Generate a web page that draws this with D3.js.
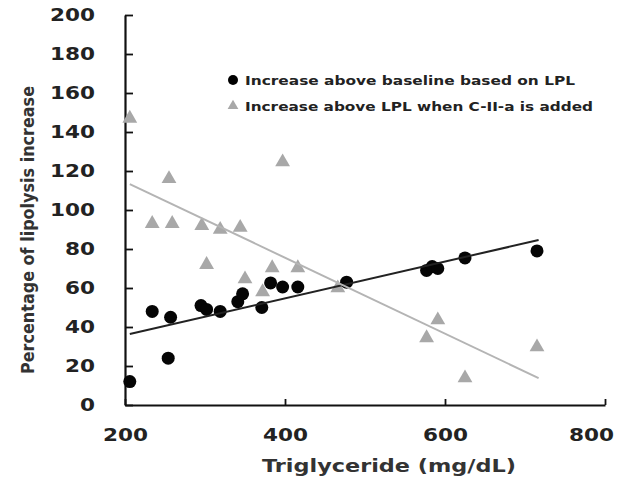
<!DOCTYPE html>
<html>
<head>
<meta charset="utf-8">
<script src="https://cdn.jsdelivr.net/npm/d3@7"></script>
<style>
  body { margin: 0; background: #fff; }
  text { font-family: "DejaVu Sans", sans-serif; }
</style>
</head>
<body>
<div id="chart"></div>
<script>
// LPL baseline series (black circles)
const lplX = [206, 234, 257, 254, 295, 302, 319, 341, 347, 371, 382, 397, 416, 477, 577, 584, 591, 625, 715];
const lplY = [12, 48, 45, 24, 51, 49, 48, 53, 57, 50, 62.6, 60.5, 60.5, 63, 69, 71, 70, 75.4, 79];

// C-II-a added series (grey triangles)
const ciiX = [206, 234, 259, 255, 296, 319, 344, 397, 302, 350, 372, 384, 416, 466, 577, 591, 625, 715];
const ciiY = [147, 93, 93, 116, 92, 90, 91, 124.6, 72, 64.6, 58, 70.3, 70.3, 60, 34.4, 43.6, 13.8, 29.7];

// trend line end points
const lplTrendX = [206, 717];
const lplTrendY = [36.4, 84.6];
const ciiTrendX = [206, 717];
const ciiTrendY = [113.3, 13.8];

const xTicks = [200, 400, 600, 800];
const yTicks = [0, 20, 40, 60, 80, 100, 120, 140, 160, 180, 200];
const legendLabels = [
  "Increase above baseline based on LPL",
  "Increase above LPL when C-II-a is added"
];

const W = 618, H = 480;
const svg = d3.select("#chart").append("svg")
  .attr("width", W)
  .attr("height", H);

const x = d3.scaleLinear().domain([200, 800]).range([125, 605]);
const y = d3.scaleLinear().domain([0, 200]).range([405, 15]);

// widen tick text a little, the source font is broad
function stretch(sel, perChar) {
  sel.selectAll(".tick text").each(function () {
    const t = d3.select(this);
    t.attr("textLength", t.text().length * perChar).attr("lengthAdjust", "spacingAndGlyphs");
  });
}

// Y axis
const gy = svg.append("g")
  .attr("transform", `translate(${x(200)},0)`)
  .call(d3.axisLeft(y).tickValues(yTicks).tickSizeInner(-8).tickSizeOuter(0).tickPadding(30));
gy.select(".domain").attr("stroke", "#111").attr("stroke-width", 2.2);
gy.selectAll(".tick line").attr("stroke", "#111").attr("stroke-width", 1.8);
gy.selectAll(".tick text")
  .attr("font-family", "DejaVu Sans").attr("font-weight", "bold")
  .attr("font-size", 17).attr("fill", "#222");
stretch(gy, 15);

// X axis
const gx = svg.append("g")
  .attr("transform", `translate(0,${y(0)})`)
  .call(d3.axisBottom(x).tickValues(xTicks).tickSizeInner(-6).tickSizeOuter(0).tickPadding(24));
gx.select(".domain").attr("stroke", "#111").attr("stroke-width", 2.2);
gx.selectAll(".tick line").attr("stroke", "#111").attr("stroke-width", 1.8);
gx.selectAll(".tick text")
  .attr("font-family", "DejaVu Sans").attr("font-weight", "bold")
  .attr("font-size", 17).attr("fill", "#222")
  .attr("dx", d => d === 800 ? -14 : 0); // last label sits left of its tick in the source
stretch(gx, 15);

// Axis titles
svg.append("text")
  .attr("x", 389).attr("y", 472)
  .attr("text-anchor", "middle")
  .attr("font-weight", "bold").attr("font-size", 17).attr("fill", "#333")
  .attr("textLength", 254).attr("lengthAdjust", "spacingAndGlyphs")
  .text("Triglyceride (mg/dL)");

svg.append("text")
  .attr("transform", "translate(34,230) rotate(-90)")
  .attr("text-anchor", "middle")
  .attr("font-weight", "bold").attr("font-size", 17).attr("fill", "#333")
  .attr("textLength", 288).attr("lengthAdjust", "spacingAndGlyphs")
  .text("Percentage of lipolysis increase");

const tri = d3.symbol().type(d3.symbolTriangle).size(95);

// triangles
svg.append("g").selectAll("path")
  .data(ciiX.map((v, i) => [v, ciiY[i]]))
  .join("path")
  .attr("d", tri)
  .attr("transform", d => `translate(${x(d[0])},${y(d[1])})`)
  .attr("fill", "#a8a8a8");

// circles
svg.append("g").selectAll("circle")
  .data(lplX.map((v, i) => [v, lplY[i]]))
  .join("circle")
  .attr("cx", d => x(d[0]))
  .attr("cy", d => y(d[1]))
  .attr("r", 6.5)
  .attr("fill", "#050505");

// trend lines
const line = d3.line().x(d => x(d[0])).y(d => y(d[1]));
svg.append("path")
  .datum(lplTrendX.map((v, i) => [v, lplTrendY[i]]))
  .attr("d", line)
  .attr("stroke", "#222").attr("stroke-width", 2).attr("fill", "none");
svg.append("path")
  .datum(ciiTrendX.map((v, i) => [v, ciiTrendY[i]]))
  .attr("d", line)
  .attr("stroke", "#b4b4b4").attr("stroke-width", 2).attr("fill", "none");

// Legend
const legend = svg.append("g");
legend.append("circle").attr("cx", 233).attr("cy", 80).attr("r", 5).attr("fill", "#000");
legend.append("path")
  .attr("d", d3.symbol().type(d3.symbolTriangle).size(50))
  .attr("transform", "translate(233,106)")
  .attr("fill", "#a8a8a8");
legend.selectAll("text")
  .data(legendLabels)
  .join("text")
  .attr("x", 245)
  .attr("y", (d, i) => 85 + i * 26)
  .attr("font-weight", "bold").attr("font-size", 13).attr("fill", "#222")
  .attr("textLength", (d, i) => i === 0 ? 330 : 348)
  .attr("lengthAdjust", "spacingAndGlyphs")
  .text(d => d);
</script>
</body>
</html>
